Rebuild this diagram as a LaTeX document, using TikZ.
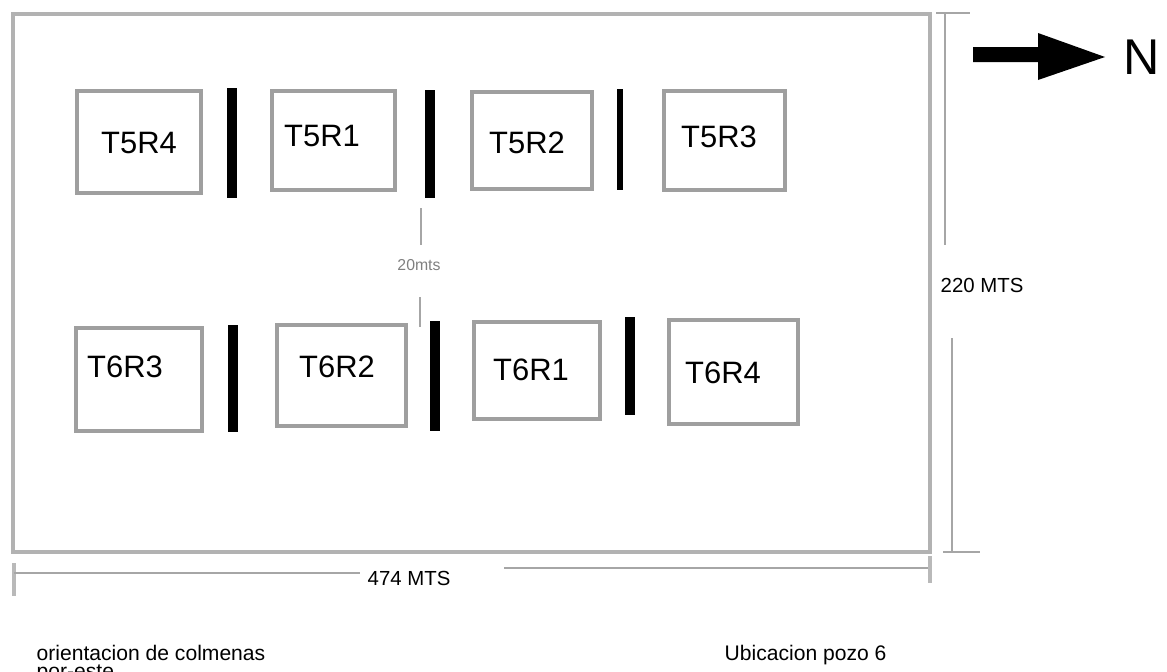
\documentclass[tikz,border=0pt]{standalone}
\usepackage{fontspec}
\setmainfont{Liberation Sans}
\usetikzlibrary{positioning}
\begin{document}
\begin{tikzpicture}[x=0.1mm, y=-0.1mm,
  field/.style={draw=gray!60, line width=0.9pt},
  hive/.style={draw=gray!75, line width=0.9pt, inner sep=0pt},
  hivelbl/.style={inner sep=0pt, font=\fontsize{8.8}{10}\selectfont},
  fence/.style={line width=2.8pt, black},
  dim/.style={draw=gray!70, line width=0.6pt},
  tick/.style={draw=gray!55, line width=1.2pt},
  dimlbl/.style={inner sep=0pt, font=\fontsize{5.8}{7}\selectfont},
  note/.style={inner sep=0pt, font=\fontsize{6}{4.9}\selectfont, align=left}
]
\useasboundingbox (0,0) rectangle (1167,672);
\draw[field] (13,14) rectangle (930,552);
\node[hive, minimum width=12.4mm, minimum height=10.2mm] (t5r4) at (139,142) {};
\node[hive, minimum width=12.3mm, minimum height=9.9mm] (t5r1) at (333.5,140.5) {};
\node[hive, minimum width=12.0mm, minimum height=9.7mm] (t5r2) at (532,140.5) {};
\node[hive, minimum width=12.1mm, minimum height=9.9mm] (t5r3) at (724.5,140.5) {};
\node[hive, minimum width=12.6mm, minimum height=10.3mm] (t6r3) at (139,379.5) {};
\node[hive, minimum width=12.9mm, minimum height=10.1mm] (t6r2) at (341.5,375.5) {};
\node[hive, minimum width=12.6mm, minimum height=9.7mm] (t6r1) at (537,370.5) {};
\node[hive, minimum width=12.9mm, minimum height=10.4mm] (t6r4) at (733.5,372) {};
\node[hivelbl] (t5r4lbl) at (139,143) {T5R4};
\node[hivelbl] (t5r1lbl) at (322,136) {T5R1};
\node[hivelbl] (t5r2lbl) at (527,143) {T5R2};
\node[hivelbl] (t5r3lbl) at (719,137) {T5R3};
\node[hivelbl] (t6r3lbl) at (125,367) {T6R3};
\node[hivelbl] (t6r2lbl) at (337,367) {T6R2};
\node[hivelbl] (t6r1lbl) at (531,370) {T6R1};
\node[hivelbl] (t6r4lbl) at (723,373) {T6R4};
\draw[fence] (232,88) -- (232,198);
\draw[fence] (430,90) -- (430,198);
\draw[fence, line width=1.9pt] (620,89) -- (620,190);
\draw[fence] (233,325) -- (233,432);
\draw[fence] (435,321) -- (435,431);
\draw[fence] (630,317) -- (630,415);
\draw[dim, line width=0.4pt] (421,208) -- (421,245);
\node[inner sep=0pt, font=\fontsize{4.5}{5}\selectfont, text=gray] (gap) at (419,265) {20mts};
\draw[dim, line width=0.4pt] (420,297) -- (420,327);
\node[dimlbl, anchor=west] (len) at (367,578) {474 MTS};
\draw[tick] (14,563) -- (14,596);
\draw[dim] (14,573) -- (360,573);
\draw[dim] (504,568) -- (930,568);
\draw[tick] (930,556) -- (930,583);
\draw[dim] (936,13) -- (970,13);
\draw[dim] (945,13) -- (945,245);
\node[dimlbl, anchor=west] (wid) at (940,285) {220 MTS};
\draw[dim] (952,338) -- (952,552);
\draw[dim] (943,552) -- (980,552);
\fill (973,47) -- (1038,47) -- (1038,33) -- (1105,57) -- (1038,80) -- (1038,62) -- (973,62) -- cycle;
\node[inner sep=0pt, font=\fontsize{14.3}{16}\selectfont] (north) at (1142,57) {N};
\node[note, anchor=base west] (orient) at (36,678) {orientacion de colmenas\\por-este};
\node[note, anchor=base west] (place) at (724,660) {Ubicacion pozo 6};
\end{tikzpicture}
\end{document}
